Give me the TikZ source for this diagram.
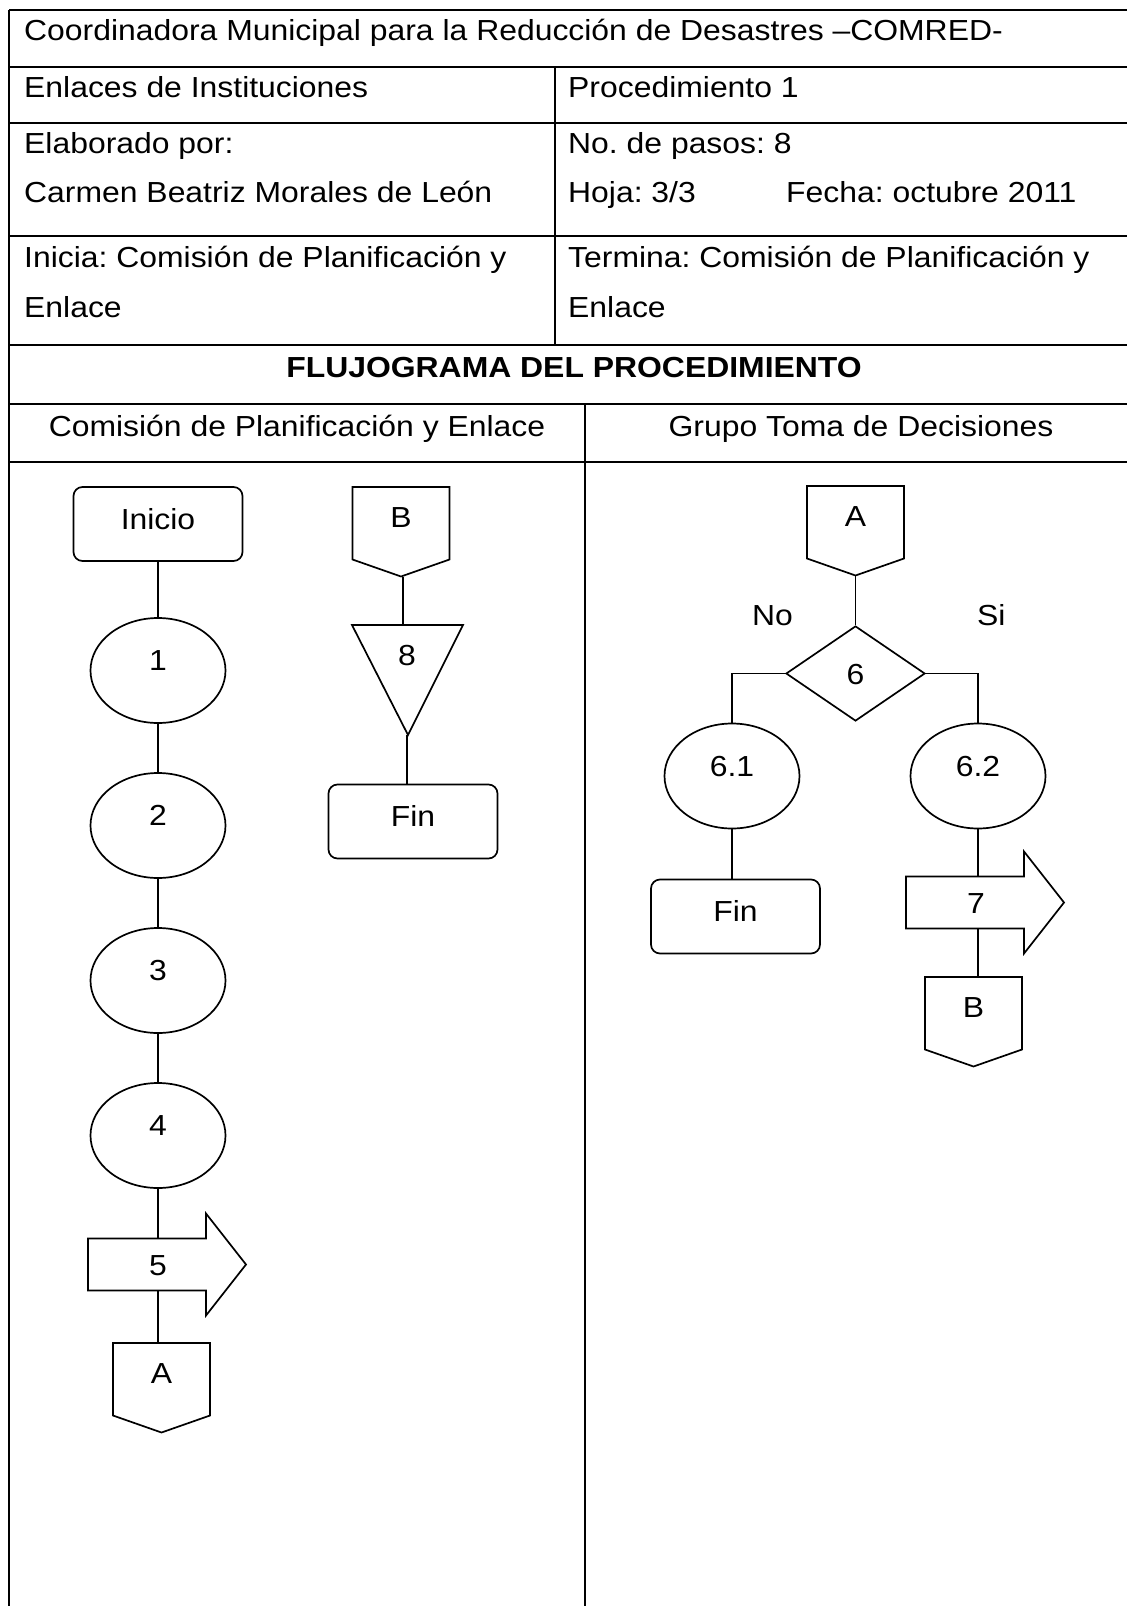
\documentclass[tikz,border=0pt]{standalone}
\usepackage{fontspec}
\setmainfont{Liberation Sans}[FakeStretch=1.1]
\usetikzlibrary{shapes.geometric,calc}
\frenchspacing
\newcommand\myfs{\fontsize{29pt}{35pt}\selectfont}
\newcommand\offpagebox[1]{\draw[line width=1.7pt] ($(#1)+(-48.5,-29.5)$) -- ++(97,0) -- ++(0,72.5) -- ++(-48.5,17) -- ++(-48.5,-17) -- cycle;}
\newcommand\blockarrow[1]{\draw[line width=1.7pt] ($(#1)+(-70,-26)$) -- ++(118,0) -- ++(0,-25) -- ++(40,51) -- ++(-40,51) -- ++(0,-25) -- ++(-118,0) -- cycle;}
\begin{document}
\begin{tikzpicture}[x=1pt,y=-1pt,
  every node/.style={font=\myfs, inner sep=0pt},
  tline/.style={line width=1.8pt},
  shp/.style={draw, line width=1.7pt},
  ln/.style={line width=1.7pt},
  lbl/.style={anchor=base west},
  term/.style={shp, rounded corners=9pt, minimum width=169pt, minimum height=74pt, text height=21pt, text depth=11pt},
  proc/.style={shp, ellipse, minimum width=135pt, minimum height=105pt, text height=12pt, text depth=12pt},
  ctext/.style={text height=21pt, text depth=0pt},
  dec/.style={shp, diamond, minimum width=139pt, minimum height=95pt, text height=21pt, text depth=0pt}
]
\useasboundingbox (0,0) rectangle (1127,1606);
% table
\draw[tline] (9,10) -- (1127,10);
\foreach \yy in {67,123,236,345,404,462} {\draw[tline] (9,\yy) -- (1127,\yy);}
\draw[tline] (9,10) -- (9,1606);
\draw[tline] (555,67) -- (555,345);
\draw[tline] (585,404) -- (585,1606);
% header texts
\node[lbl] (t1) at (24,40) {Coordinadora Municipal para la Reducción de Desastres –COMRED-};
\node[lbl] (t2) at (24,97) {Enlaces de Instituciones};
\node[lbl] (t3) at (568,97) {Procedimiento 1};
\node[lbl] (t4) at (24,153) {Elaborado por:};
\node[lbl] (t5) at (568,153) {No. de pasos: 8};
\node[lbl] (t6) at (24,202) {Carmen Beatriz Morales de León};
\node[lbl] (t7) at (568,202) {Hoja: 3/3};
\node[lbl] (t8) at (786,202) {Fecha: octubre 2011};
\node[lbl] (t9) at (24,267) {Inicia: Comisión de Planificación y};
\node[lbl] (t10) at (24,317) {Enlace};
\node[lbl] (t11) at (568,267) {Termina: Comisión de Planificación y};
\node[lbl] (t12) at (568,317) {Enlace};
\node[anchor=base, font=\myfs\bfseries] (t13) at (574,377) {FLUJOGRAMA DEL PROCEDIMIENTO};
\node[anchor=base] (t14) at (297,436) {Comisión de Planificación y Enlace};
\node[anchor=base] (t15) at (861,436) {Grupo Toma de Decisiones};
% left column
\node[term] (inicio) at (158,524) {Inicio};
\node[proc] (e1) at (158,670.5) {1};
\node[proc] (e2) at (158,825.5) {2};
\node[proc] (e3) at (158,980.5) {3};
\node[proc] (e4) at (158,1135.5) {4};
\node[ctext] (a5) at (158,1264.5) {5};
\blockarrow{a5}
\node[ctext] (cA) at (161.5,1372.5) {A};
\offpagebox{cA}
\coordinate (a5t) at ($(a5)+(0,-26)$);
\coordinate (a5b) at ($(a5)+(0,26)$);
\coordinate (cAt) at ($(cA)+(0,-29.5)$);
\draw[ln] (inicio.south) -- (e1.north);
\draw[ln] (e1.south) -- (e2.north);
\draw[ln] (e2.south) -- (e3.north);
\draw[ln] (e3.south) -- (e4.north);
\draw[ln] (e4.south) -- (a5t);
\draw[ln] (a5b) -- (a5b |- cAt);
% second sub-column
\node[ctext] (cBl) at (401,516.5) {B};
\offpagebox{cBl}
\node[ctext] (n8) at (407,654.5) {8};
\draw[line width=1.7pt] ($(n8)+(-55,-29.5)$) -- ++(111,0) -- ($(n8)+(1,80.5)$) -- cycle;
\node[term] (finA) at (413,821.5) {Fin};
\coordinate (cBlp) at ($(cBl)+(2,60)$);
\coordinate (n8t) at ($(n8)+(0,-29.5)$);
\coordinate (n8p) at ($(n8)+(0,80.5)$);
\draw[ln] (cBlp) -- (cBlp |- n8t);
\draw[ln] (n8p) -- (n8p |- finA.north);
% right column
\node[ctext] (cAr) at (855.5,515.5) {A};
\offpagebox{cAr}
\node[dec] (d6) at (855.5,673.5) {6};
\node[lbl] (no) at (752,625) {No};
\node[lbl] (si) at (977,625) {Si};
\node[proc] (e61) at (732,776) {6.1};
\node[proc] (e62) at (978,776) {6.2};
\node[term] (finB) at (735.5,916.5) {Fin};
\node[ctext] (a7) at (976,902.5) {7};
\blockarrow{a7}
\node[ctext] (cBr) at (973.5,1006.5) {B};
\offpagebox{cBr}
\coordinate (cArp) at ($(cAr)+(0,60)$);
\coordinate (a7t) at ($(a7)+(0,-26)$);
\coordinate (a7b) at ($(a7)+(0,26)$);
\coordinate (cBrt) at ($(cBr)+(0,-29.5)$);
\draw[ln] (cArp) -- (d6.north);
\draw[ln] (d6.west) -| (e61.north);
\draw[ln] (d6.east) -| (e62.north);
\draw[ln] (e61.south) -- (e61.south |- finB.north);
\draw[ln] (e62.south) -- (e62.south |- a7t);
\draw[ln] (e62.south |- a7b) -- (e62.south |- cBrt);
\end{tikzpicture}
\end{document}
